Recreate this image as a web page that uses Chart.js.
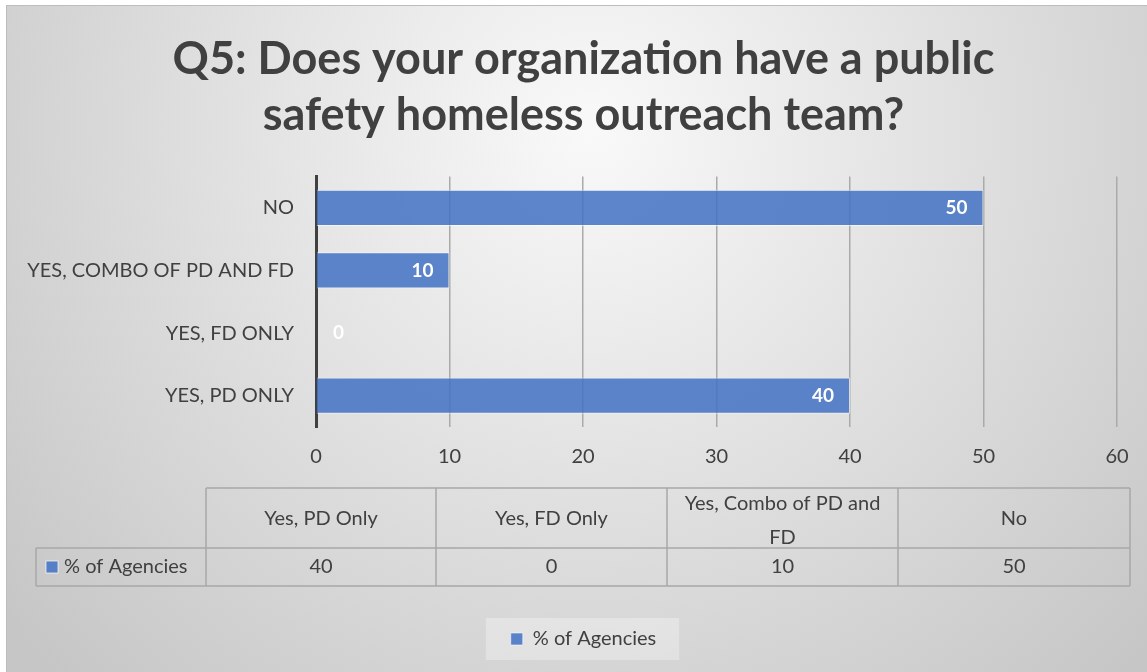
<!DOCTYPE html>
<html>
<head>
<meta charset="utf-8">
<script src="https://cdn.jsdelivr.net/npm/chart.js@4.4.1/dist/chart.umd.min.js"></script>
<style>
  html, body { margin: 0; padding: 0; background: #fff; }
  #wrap { width: 1147px; height: 672px; }
</style>
</head>
<body>
<div id="wrap"><canvas id="chart" width="1147" height="672"></canvas></div>
<script>
// chart data
const categories = ['Yes, PD Only', 'Yes, FD Only', 'Yes, Combo of PD and FD', 'No'];
const agencies = [40, 0, 10, 50];
const seriesName = '% of Agencies';
const xTicks = [0, 10, 20, 30, 40, 50, 60];
const titleLines = ['Q5: Does your organization have a public', 'safety homeless outreach team?'];

const textColor = '#404040';
const barColor = 'rgba(68, 114, 196, 0.86)';
const fontFamily = 'Lato, "Open Sans", sans-serif';

// grey radial background + outer frame
const backgroundPlugin = {
    id: 'background',
    afterLayout(chart) {
        // centre title and legend a bit right of the canvas middle, like the original
        [chart.titleBlock, chart.legend].forEach(b => {
            if (b) { b.left = 50; b.right = 1117; }
        });
    },
    beforeDraw(chart) {
        const ctx = chart.ctx;
        ctx.save();
        ctx.fillStyle = '#ffffff';
        ctx.fillRect(0, 0, chart.width, chart.height);
        const g = ctx.createRadialGradient(590, 130, 0, 590, 130, 760);
        g.addColorStop(0, '#f9f9f9');
        g.addColorStop(1, '#c6c6c6');
        ctx.fillStyle = g;
        ctx.fillRect(6, 5, chart.width - 6, chart.height - 5);
        ctx.strokeStyle = '#bdbdbd';
        ctx.lineWidth = 1;
        ctx.strokeRect(6.5, 5.5, chart.width, chart.height);

        // light box behind the legend
        const legend = chart.legend;
        if (legend && legend.legendHitBoxes && legend.legendHitBoxes.length) {
            const hb = legend.legendHitBoxes[0];
            ctx.fillStyle = 'rgba(255, 255, 255, 0.3)';
            ctx.fillRect(hb.left - 25, legend.top + 1, hb.width + 48, legend.height);
        }
        ctx.restore();
    }
};

// white value labels at the inside end of each bar
const valueLabelPlugin = {
    id: 'valueLabels',
    afterDatasetsDraw(chart) {
        const ctx = chart.ctx;
        const meta = chart.getDatasetMeta(0);
        ctx.save();
        ctx.font = 'bold 19px ' + fontFamily;
        ctx.fillStyle = '#ffffff';
        ctx.textBaseline = 'middle';
        meta.data.forEach((bar, i) => {
            const txt = String(chart.data.datasets[0].data[i]);
            const w = ctx.measureText(txt).width;
            if (bar.x - bar.base > w + 20) {
                ctx.textAlign = 'right';
                ctx.fillText(txt, bar.x - 16, bar.y);
            } else {
                ctx.textAlign = 'left';
                ctx.fillText(txt, bar.base + 17, bar.y);
            }
        });
        ctx.restore();
    }
};

// data table under the axis
const dataTablePlugin = {
    id: 'dataTable',
    afterDraw(chart) {
        const ctx = chart.ctx;
        const cols = [206, 436, 667, 898, 1130];
        const top = 488, mid = 548, bottom = 586, labelLeft = 36;
        ctx.save();
        ctx.strokeStyle = '#a8a8a8';
        ctx.lineWidth = 1.5;
        ctx.beginPath();
        ctx.moveTo(cols[0], top); ctx.lineTo(cols[4], top);
        ctx.moveTo(labelLeft, mid); ctx.lineTo(cols[4], mid);
        ctx.moveTo(labelLeft, bottom); ctx.lineTo(cols[4], bottom);
        ctx.moveTo(labelLeft, mid); ctx.lineTo(labelLeft, bottom);
        cols.forEach(x => { ctx.moveTo(x, top); ctx.lineTo(x, bottom); });
        ctx.stroke();

        ctx.fillStyle = textColor;
        ctx.font = '20px ' + fontFamily;
        ctx.textAlign = 'center';
        ctx.textBaseline = 'middle';
        categories.forEach((c, i) => {
            const cx = (cols[i] + cols[i + 1]) / 2;
            const maxW = cols[i + 1] - cols[i] - 12;
            // wrap long headers
            const words = c.split(' ');
            const lines = [];
            let line = '';
            words.forEach(wd => {
                const test = line ? line + ' ' + wd : wd;
                if (ctx.measureText(test).width > maxW && line) {
                    lines.push(line);
                    line = wd;
                } else {
                    line = test;
                }
            });
            lines.push(line);
            const lh = 34;
            const startY = (top + mid) / 2 + (lines.length > 1 ? 3 : 1) - (lines.length - 1) * lh / 2;
            lines.forEach((l, k) => ctx.fillText(l, cx, startY + k * lh));
            ctx.fillText(String(agencies[i]), cx, (mid + bottom) / 2);
        });

        // legend key in the table
        const ky = (mid + bottom) / 2;
        ctx.fillStyle = barColor;
        ctx.fillRect(46, ky - 6, 12, 12);
        ctx.strokeStyle = 'rgba(255,255,255,0.7)';
        ctx.lineWidth = 1;
        ctx.strokeRect(46, ky - 6, 12, 12);
        ctx.fillStyle = textColor;
        ctx.textAlign = 'left';
        ctx.fillText(seriesName, 64, ky);
        ctx.restore();
    }
};

new Chart(document.getElementById('chart'), {
    type: 'bar',
    data: {
        labels: categories,
        datasets: [{
            label: seriesName,
            data: agencies,
            backgroundColor: barColor,
            borderColor: 'rgba(255, 255, 255, 0.55)',
            borderWidth: 1,
            barPercentage: 0.58,
            categoryPercentage: 1.0
        }]
    },
    options: {
        indexAxis: 'y',
        responsive: false,
        animation: false,
        layout: { padding: { left: 0, right: 30, top: 31, bottom: 13 } },
        plugins: {
            title: {
                display: true,
                text: titleLines,
                color: textColor,
                font: { family: fontFamily, size: 45, weight: 'bold', lineHeight: 1.25 },
                padding: { top: 0, bottom: 33 }
            },
            legend: {
                position: 'bottom',
                labels: {
                    color: textColor,
                    font: { family: fontFamily, size: 20 },
                    boxWidth: 12,
                    boxHeight: 12,
                    padding: 12
                }
            },
            tooltip: { enabled: false }
        },
        scales: {
            x: {
                min: 0,
                max: 60,
                afterBuildTicks(scale) {
                    scale.ticks = xTicks.map(v => ({ value: v }));
                },
                afterFit(scale) { scale.height = 190; },
                grid: { color: '#aaaaaa', lineWidth: 1.5, drawTicks: false },
                border: { display: false },
                ticks: {
                    color: textColor,
                    font: { family: fontFamily, size: 20 },
                    padding: 18
                }
            },
            y: {
                reverse: true,
                afterFit(scale) { scale.width = 316; },
                grid: { display: false },
                border: { color: '#404040', width: 3 },
                ticks: {
                    color: textColor,
                    font: { family: fontFamily, size: 20 },
                    padding: 14,
                    callback(value) {
                        return this.getLabelForValue(value).toUpperCase();
                    }
                }
            }
        }
    },
    plugins: [backgroundPlugin, valueLabelPlugin, dataTablePlugin]
});
</script>
</body>
</html>
